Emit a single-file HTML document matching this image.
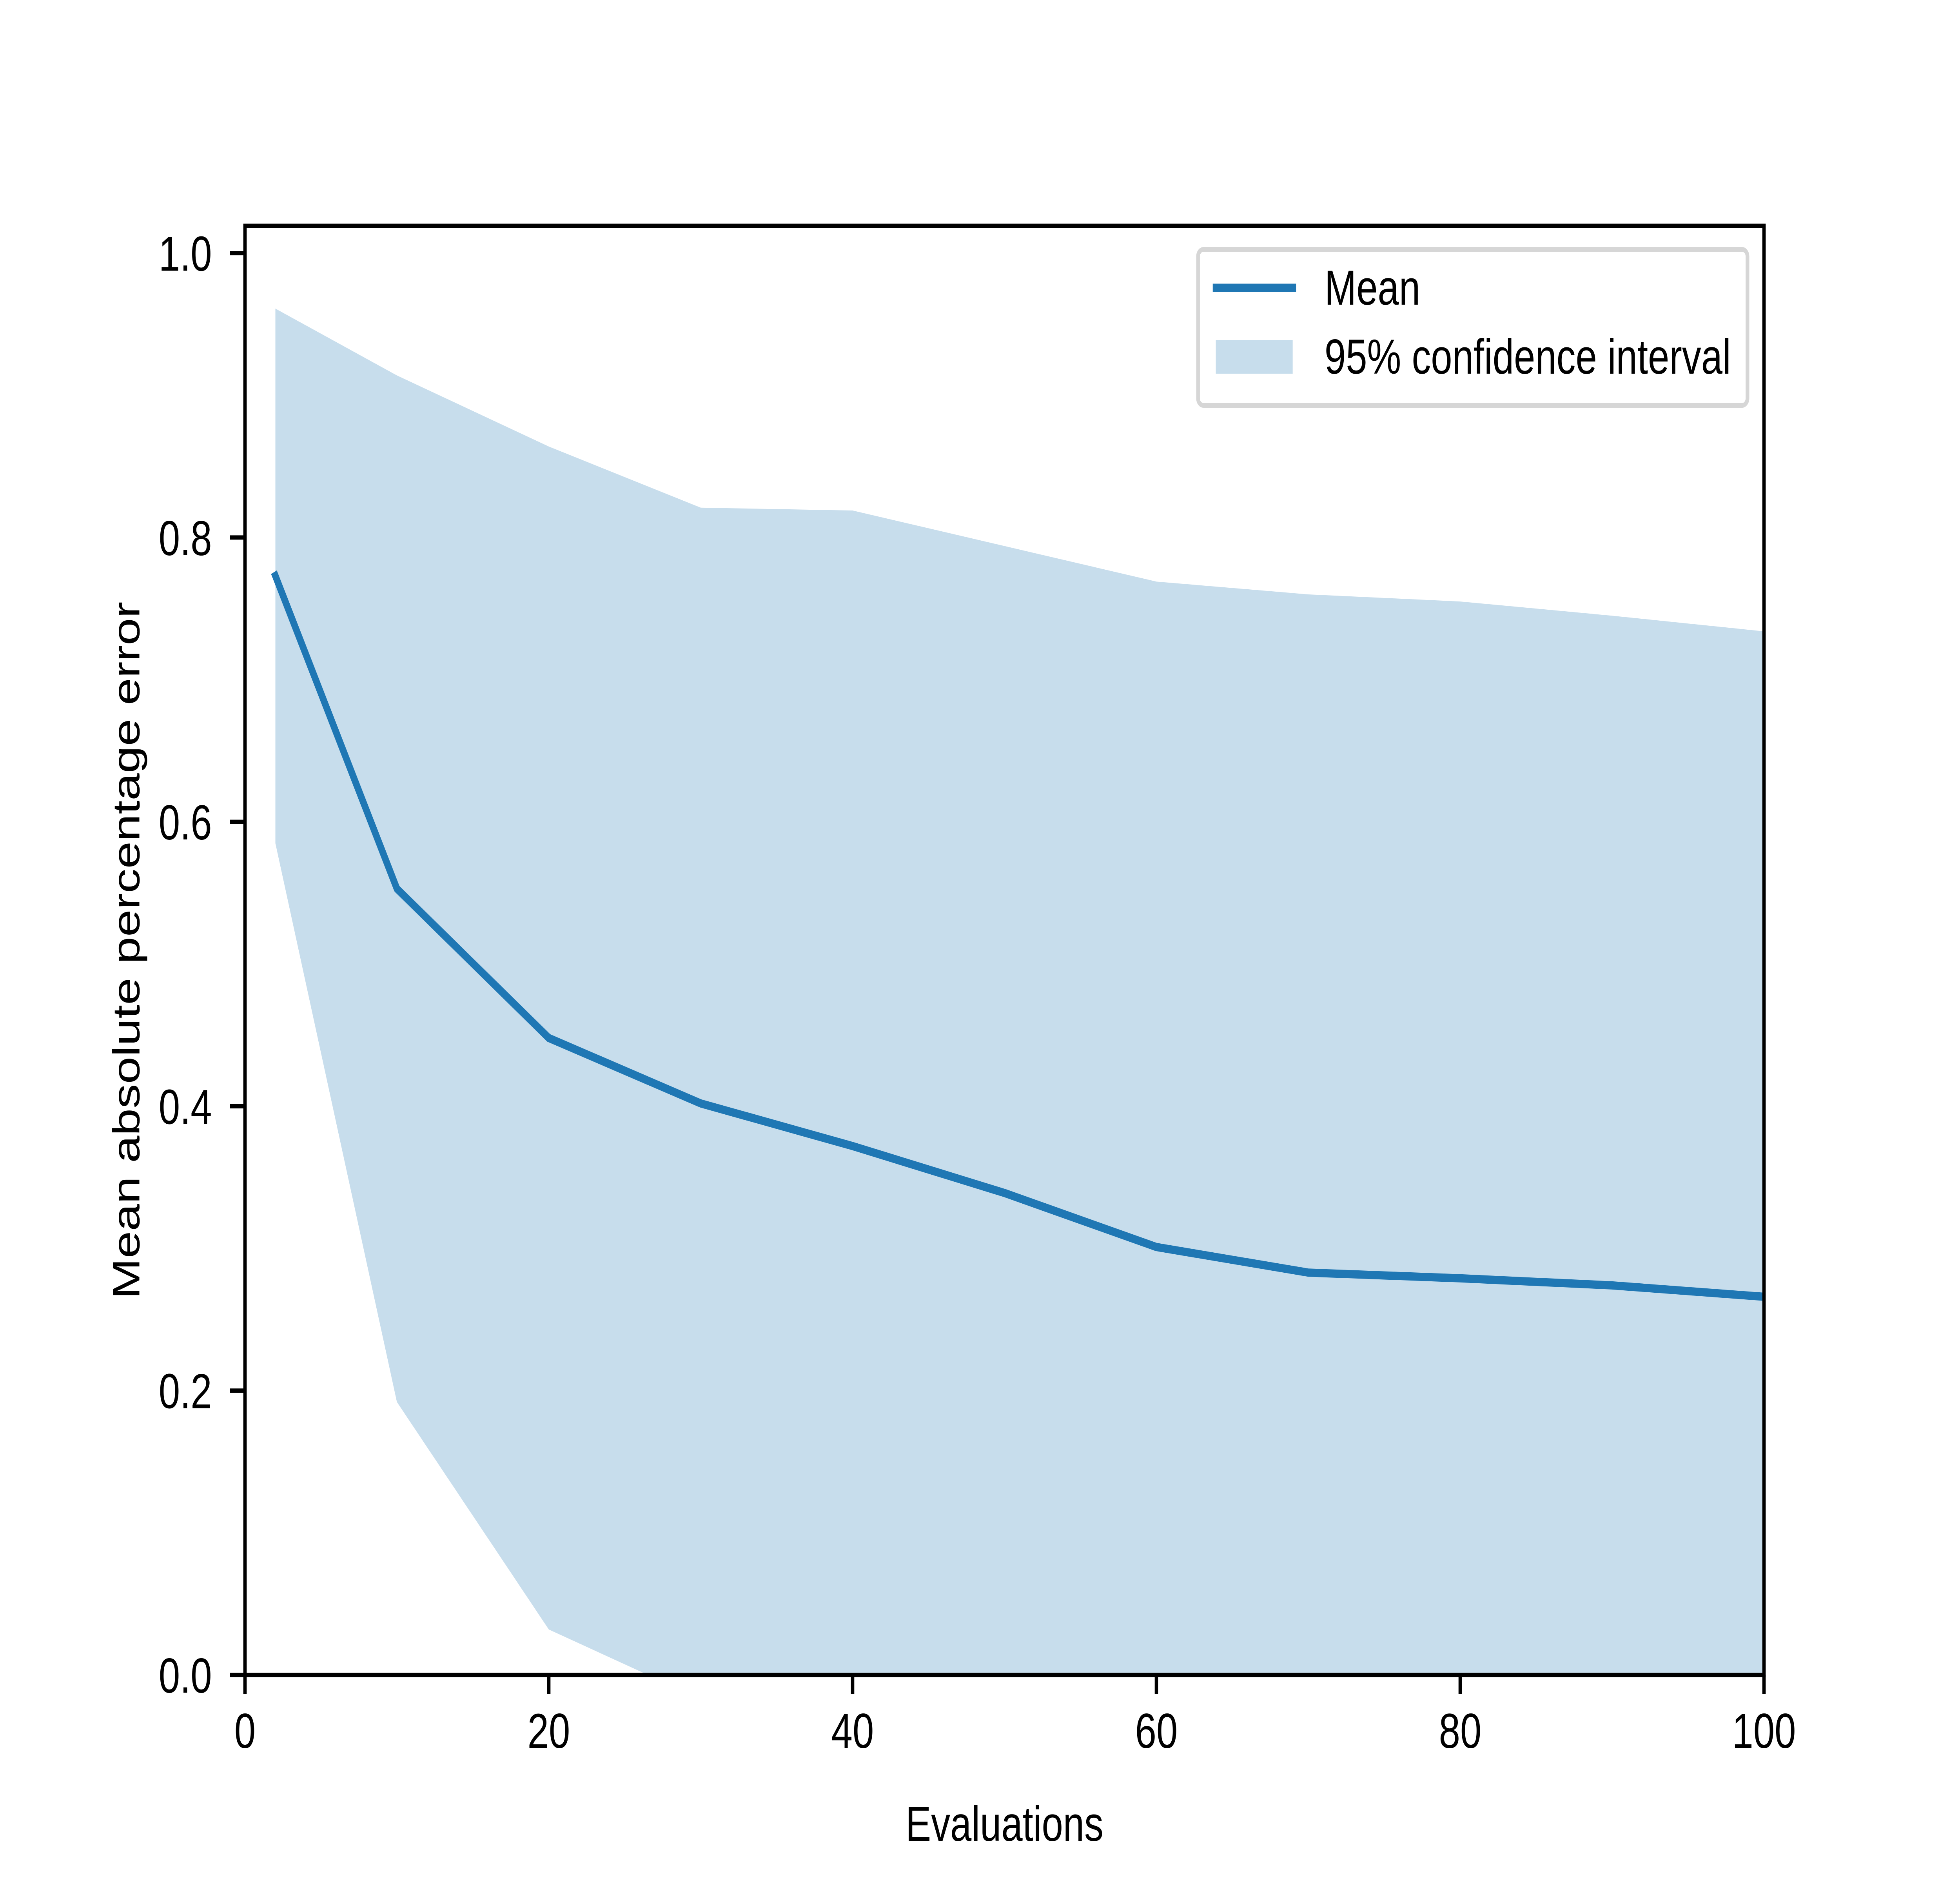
<!DOCTYPE html>
<html><head><meta charset="utf-8"><style>
html,body{margin:0;padding:0;background:#fff;overflow:hidden;width:100%;height:100%;}
svg{display:block;width:100vw;height:100vh;}
text{font-family:"Liberation Sans",Arial,sans-serif;fill:#000;}
</style></head><body>
<svg id="chart" viewBox="0 0 6400 4800" preserveAspectRatio="none" xmlns="http://www.w3.org/2000/svg">
<rect x="0" y="0" width="6400" height="4800" fill="#fff"/>
<defs><clipPath id="clip"><rect x="800" y="576" width="4960" height="3696"/></clipPath></defs>
<g id="plot" clip-path="url(#clip)"></g>
<g id="axes"></g>
<g id="legend">
<rect x="3912" y="636" width="1794" height="398" rx="18" fill="#fff" fill-opacity="0.8" stroke="#d6d6d6" stroke-width="12"/>
<line x1="3960" y1="734" x2="4232" y2="734" stroke="#1f77b4" stroke-width="21"/>
<text x="4325" y="777" font-size="125">Mean</text>
<rect x="3970" y="867" width="251" height="86" fill="#1f77b4" fill-opacity="0.25"/>
<text x="4325" y="953" font-size="125">95% confidence interval</text>
</g>
</svg>
<script>
const xs = [2,10,20,30,40,50,60,70,80,90,100];
const meanVals = [0.773,0.553,0.448,0.402,0.372,0.339,0.301,0.283,0.279,0.274,0.266];
const upperVals = [0.961,0.914,0.864,0.821,0.819,0.794,0.769,0.760,0.755,0.745,0.734];
const lowerVals = [0.585,0.192,0.032,-0.017,-0.075,-0.116,-0.167,-0.194,-0.197,-0.197,-0.202];
const xTicks = [0,20,40,60,80,100];
const yTicks = [0.0,0.2,0.4,0.6,0.8,1.0];
const yTickLabels = ["0.0","0.2","0.4","0.6","0.8","1.0"];

const L=800,R=5760,T=576,B=4272, XMAX=100, YMAX=1.0192;
const sx=v=>L+(v/XMAX)*(R-L);
const sy=v=>B-(v/YMAX)*(B-T);
const NS="http://www.w3.org/2000/svg";
function mk(tag,attrs,parent){const e=document.createElementNS(NS,tag);for(const k in attrs)e.setAttribute(k,attrs[k]);parent.appendChild(e);return e;}
const plot=document.getElementById('plot'), axes=document.getElementById('axes');

let d='M'+xs.map((x,i)=>sx(x)+','+sy(upperVals[i])).join(' L');
for(let i=xs.length-1;i>=0;i--) d+=' L'+sx(xs[i])+','+sy(lowerVals[i]);
d+=' Z';
const band=mk('path',{d:d,fill:'#1f77b4','fill-opacity':'0.25'},plot);



const line=mk('polyline',{points:xs.map((x,i)=>sx(x)+','+sy(meanVals[i])).join(' '),fill:'none',stroke:'#1f77b4','stroke-width':'21','stroke-linejoin':'round','stroke-linecap':'square'},plot);



const frame=mk('rect',{x:L,y:T,width:R-L,height:B-T,fill:'none',stroke:'#000','stroke-width':'11'},axes);



xTicks.forEach(v=>{
  const t=mk('line',{x1:sx(v),y1:B,x2:sx(v),y2:B+49,stroke:'#000','stroke-width':'11'},axes);
  
  
  const l=mk('text',{x:sx(v),y:4458,'font-size':'125','text-anchor':'middle'},axes);
  l.textContent=String(v);
  
  
});
yTicks.forEach((v,i)=>{
  const t=mk('line',{x1:L-49,y1:sy(v),x2:L,y2:sy(v),stroke:'#000','stroke-width':'11'},axes);
  
  
  const l=mk('text',{x:692,y:sy(v)+45,'font-size':'125','text-anchor':'end'},axes);
  l.textContent=yTickLabels[i];
  
  
});
const xt=mk('text',{x:(L+R)/2,y:4695,'font-size':'125','text-anchor':'middle'},axes);
xt.textContent='Evaluations';


const yt=mk('text',{x:0,y:0,'font-size':'125','text-anchor':'middle',transform:'translate(455,'+((T+B)/2)+') rotate(-90)'},axes);
yt.textContent='Mean absolute percentage error';


</script>
</body></html>
